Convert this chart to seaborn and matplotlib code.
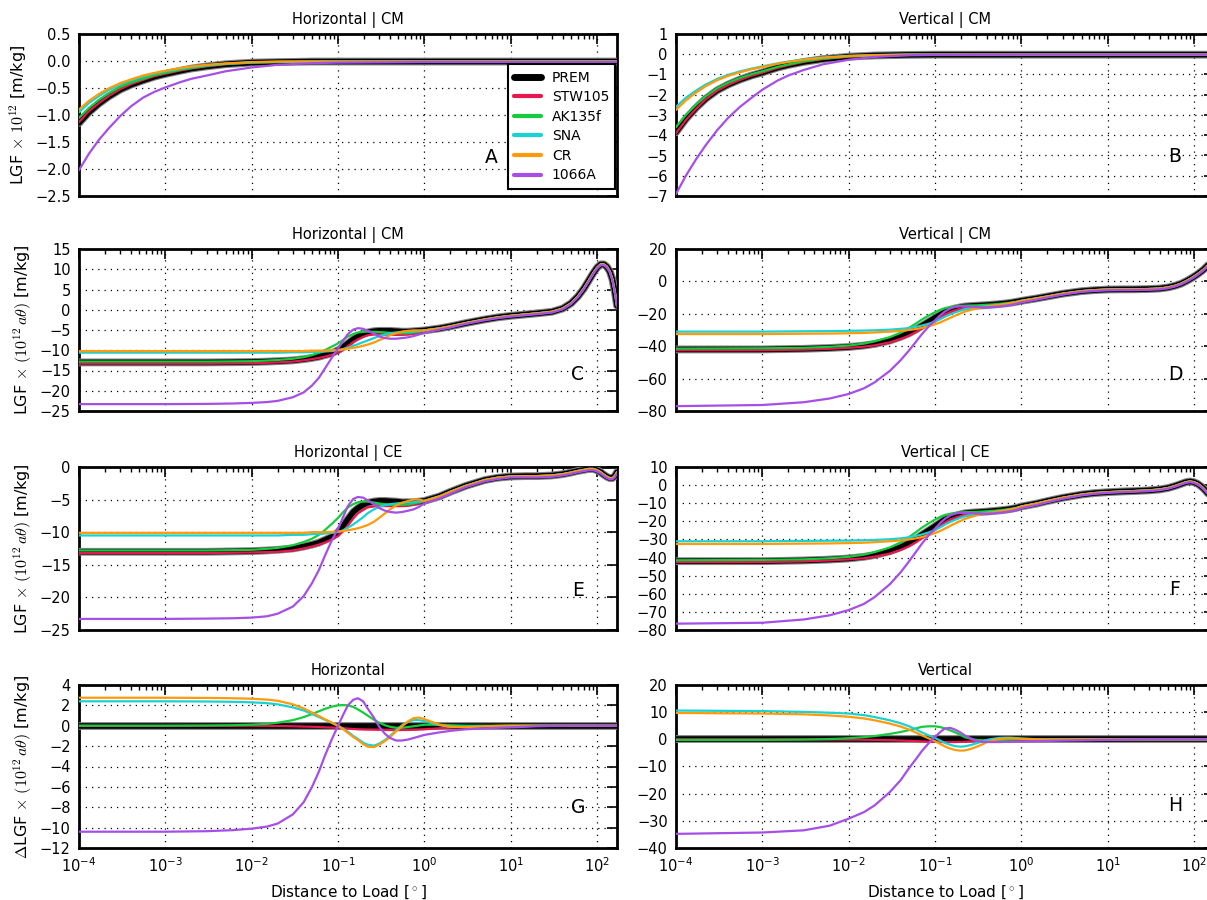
"""
Load Green's functions for six Earth models (8 panels, log distance axis).
"""

import matplotlib
matplotlib.use("Agg")
import matplotlib.pyplot as plt
import matplotlib.patheffects as pe
from matplotlib.lines import Line2D
from matplotlib.ticker import LogLocator, MultipleLocator, NullFormatter
import pandas as pd
import seaborn as sns

MODELS = ["PREM", "STW105", "AK135f", "SNA", "CR", "1066A"]
COLORS = {
    "PREM": "black",
    "STW105": "#e8174f",
    "AK135f": "#14cc3c",
    "SNA": "#1ad2d2",
    "CR": "#ff9a0a",
    "1066A": "#a64fe6",
}

# ── distances [deg] ─────────────────────────────────────────────────
DIST_NEAR = [1e-4, 1.3e-4, 1.7e-4, 2.2e-4, 3e-4, 4e-4, 5.5e-4, 7.5e-4, 1e-3,
             1.5e-3, 2e-3, 3e-3, 5e-3, 1e-2, 2e-2, 5e-2, 0.1, 1, 10, 170]
DIST_HEAD = [1e-4, 1e-3, 3e-3, 6e-3, 1e-2, 1.5e-2, 2e-2, 3e-2, 4e-2, 5e-2,
             6e-2, 7e-2, 8.5e-2, 0.1, 0.115, 0.13, 0.15, 0.17, 0.195, 0.22,
             0.26, 0.3, 0.35, 0.4, 0.47, 0.55, 0.65, 0.75, 0.87]
DIST_TAIL = [1, 1.5, 2, 3, 5, 7, 10, 15, 20, 30, 40, 50, 60, 70, 80, 90, 100,
             110, 120, 130, 140, 150, 160, 170]
DIST = DIST_HEAD + DIST_TAIL

# ── A: horizontal | CM, LGF x 1e12 ──────────────────────────────────
A_PREM = [-1.15, -0.95, -0.79, -0.66, -0.53, -0.44, -0.36, -0.29, -0.24, -0.18,
          -0.14, -0.10, -0.06, -0.03, -0.02, -0.01, -0.01, -0.01, -0.01, -0.01]
A_STW105 = [-1.13, -0.93, -0.78, -0.65, -0.52, -0.43, -0.35, -0.28, -0.235, -0.175,
            -0.14, -0.10, -0.06, -0.03, -0.02, -0.01, -0.01, -0.01, -0.01, -0.01]
A_AK135F = [-1.05, -0.87, -0.72, -0.60, -0.48, -0.40, -0.33, -0.26, -0.22, -0.16,
            -0.13, -0.09, -0.055, -0.03, -0.02, -0.01, -0.01, -0.01, -0.01, -0.01]
A_SNA = [-0.95, -0.78, -0.65, -0.54, -0.43, -0.36, -0.29, -0.23, -0.19, -0.14,
         -0.11, -0.08, -0.05, -0.025, -0.015, -0.01, -0.01, -0.01, -0.01, -0.01]
A_CR = [-0.90, -0.74, -0.61, -0.51, -0.41, -0.34, -0.27, -0.22, -0.18, -0.13,
        -0.10, -0.07, -0.045, -0.02, -0.01, -0.01, -0.01, -0.01, -0.01, -0.01]
A_1066A = [-2.02, -1.72, -1.46, -1.25, -1.02, -0.84, -0.68, -0.57, -0.49, -0.39,
           -0.33, -0.27, -0.19, -0.12, -0.07, -0.04, -0.03, -0.02, -0.02, -0.02]

# ── B: vertical | CM, LGF x 1e12 ────────────────────────────────────
B_PREM = [-3.85, -3.2, -2.65, -2.2, -1.78, -1.5, -1.25, -1.05, -0.9, -0.66,
          -0.53, -0.38, -0.24, -0.12, -0.06, -0.03, -0.02, -0.02, -0.02, -0.02]
B_STW105 = [-3.9, -3.25, -2.7, -2.23, -1.8, -1.52, -1.27, -1.06, -0.91, -0.67,
            -0.54, -0.38, -0.24, -0.12, -0.06, -0.03, -0.02, -0.02, -0.02, -0.02]
B_AK135F = [-3.6, -3.0, -2.5, -2.08, -1.68, -1.41, -1.17, -0.98, -0.84, -0.62,
            -0.5, -0.35, -0.22, -0.11, -0.055, -0.025, -0.02, -0.02, -0.02, -0.02]
B_SNA = [-2.6, -2.15, -1.8, -1.5, -1.22, -1.02, -0.85, -0.71, -0.6, -0.45,
         -0.36, -0.26, -0.16, -0.08, -0.04, -0.02, -0.02, -0.02, -0.02, -0.02]
B_CR = [-2.75, -2.28, -1.9, -1.58, -1.28, -1.07, -0.89, -0.74, -0.63, -0.47,
        -0.38, -0.27, -0.17, -0.085, -0.045, -0.02, -0.02, -0.02, -0.02, -0.02]
B_1066A = [-6.9, -6.0, -5.2, -4.5, -3.75, -3.15, -2.6, -2.15, -1.75, -1.3,
           -1.05, -0.78, -0.5, -0.27, -0.13, -0.05, -0.03, -0.02, -0.02, -0.02]

# ── C: horizontal | CM, LGF x (1e12 a theta) ───────────────────────
C_TAIL = [-5.1, -4.6, -4.1, -3.3, -2.4, -1.9, -1.5, -1.15, -0.9, -0.5, 0.3, 1.6,
          3.3, 5.2, 7.2, 9.0, 10.4, 11.2, 11.2, 10.6, 9.5, 7.6, 4.6, 1.0]
C_TAIL_1066A = [-5.7, -4.9, -4.4, -3.5, -2.6, -2.1, -1.7, -1.35, -1.1, -0.7, 0.1, 1.4,
                3.1, 5.0, 7.0, 8.8, 10.2, 11.0, 11.0, 10.4, 9.3, 7.4, 4.4, 0.8]
C_PREM = [-13.0, -13.0, -13.0, -12.95, -12.9, -12.8, -12.7, -12.5, -12.2, -11.9,
          -11.6, -11.2, -10.7, -10.0, -9.2, -8.3, -7.3, -6.6, -6.0, -5.6,
          -5.3, -5.2, -5.2, -5.2, -5.3, -5.4, -5.4, -5.3, -5.2] + C_TAIL
C_STW105 = [-13.3, -13.3, -13.3, -13.25, -13.2, -13.1, -13.0, -12.8, -12.5, -12.2,
            -11.9, -11.6, -11.1, -10.5, -9.8, -9.0, -8.0, -7.3, -6.7, -6.3,
            -6.1, -6.1, -6.15, -6.2, -6.2, -6.2, -6.1, -5.9, -5.6] + C_TAIL
C_AK135F = [-12.8, -12.8, -12.8, -12.75, -12.7, -12.55, -12.4, -12.1, -11.7, -11.2,
            -10.6, -10.0, -9.1, -8.3, -7.4, -6.6, -6.0, -5.6, -5.45, -5.4,
            -5.45, -5.5, -5.6, -5.7, -5.8, -5.8, -5.75, -5.6, -5.4] + C_TAIL
C_SNA = [-10.6, -10.6, -10.6, -10.6, -10.6, -10.6, -10.6, -10.5, -10.5, -10.4,
         -10.4, -10.3, -10.2, -10.0, -9.7, -9.4, -8.9, -8.5, -8.0, -7.6,
         -7.0, -6.5, -6.1, -5.8, -5.6, -5.5, -5.45, -5.4, -5.25] + C_TAIL
C_CR = [-10.2, -10.2, -10.2, -10.2, -10.2, -10.2, -10.2, -10.2, -10.2, -10.1,
        -10.1, -10.1, -10.0, -9.9, -9.8, -9.6, -9.4, -9.2, -8.9, -8.6,
        -8.1, -7.5, -6.9, -6.3, -5.8, -5.4, -5.2, -5.1, -5.1] + C_TAIL
C_1066A = [-23.3, -23.3, -23.25, -23.15, -23.0, -22.8, -22.5, -21.6, -20.4, -18.7,
           -16.8, -14.6, -11.8, -9.5, -7.6, -6.0, -4.9, -4.55, -4.7, -5.2,
           -5.9, -6.6, -7.0, -7.15, -7.15, -7.0, -6.8, -6.5, -6.1] + C_TAIL_1066A

# ── D: vertical | CM ────────────────────────────────────────────────
D_TAIL = [-12.0, -10.5, -9.3, -7.6, -6.0, -5.4, -5.0, -4.9, -4.9, -4.7, -4.4, -3.7,
          -2.7, -1.5, 0.0, 1.5, 3.0, 4.5, 6.0, 7.5, 9.2, 10.8, 12.5, 14.5]
D_TAIL_1066A = [-13.0, -11.3, -10.0, -8.2, -6.5, -5.9, -5.5, -5.4, -5.4, -5.2, -4.9, -4.2,
                -3.2, -2.0, -0.5, 1.0, 2.5, 4.0, 5.5, 7.0, 8.7, 10.3, 12.0, 14.0]
D_PREM = [-42.0, -42.0, -41.6, -41.1, -40.5, -39.6, -38.6, -36.5, -34.2, -32.0,
          -29.7, -27.5, -24.8, -22.5, -20.6, -19.0, -17.6, -16.7, -16.0, -15.5,
          -15.2, -15.0, -14.8, -14.6, -14.3, -14.0, -13.6, -13.2, -12.6] + D_TAIL
D_STW105 = [-42.5, -42.5, -42.1, -41.6, -41.0, -40.3, -39.5, -37.6, -35.5, -33.5,
            -31.2, -29.0, -26.6, -24.5, -22.3, -20.5, -18.9, -17.8, -16.9, -16.3,
            -15.8, -15.5, -15.2, -14.9, -14.6, -14.2, -13.8, -13.3, -12.7] + D_TAIL
D_AK135F = [-41.5, -41.3, -41.0, -40.4, -39.6, -38.4, -37.0, -34.4, -31.6, -28.7,
            -26.0, -23.6, -21.0, -19.0, -17.5, -16.5, -15.8, -15.4, -15.1, -14.95,
            -14.85, -14.8, -14.6, -14.4, -14.2, -13.9, -13.5, -13.1, -12.6] + D_TAIL
D_SNA = [-31.0, -31.0, -30.8, -30.7, -30.5, -30.35, -30.2, -29.8, -29.3, -28.8,
         -28.1, -27.3, -26.1, -24.8, -23.3, -21.8, -20.3, -19.2, -18.1, -17.2,
         -16.5, -16.0, -15.6, -15.2, -14.8, -14.5, -14.0, -13.4, -12.8] + D_TAIL
D_CR = [-32.5, -32.5, -32.3, -32.2, -32.0, -31.8, -31.5, -31.0, -30.5, -30.0,
        -29.4, -28.7, -27.6, -26.5, -25.3, -24.0, -22.5, -21.2, -19.9, -18.7,
        -17.6, -16.7, -16.0, -15.5, -15.0, -14.6, -14.0, -13.4, -12.8] + D_TAIL
D_1066A = [-77.0, -76.3, -74.6, -72.3, -69.5, -66.0, -62.3, -55.2, -48.6, -42.6,
           -37.3, -32.7, -27.6, -24.0, -20.9, -18.6, -16.7, -15.8, -15.4, -15.4,
           -15.6, -15.8, -16.0, -16.0, -15.8, -15.5, -15.0, -14.5, -13.8] + D_TAIL_1066A

# ── E: horizontal | CE ──────────────────────────────────────────────
E_TAIL = [-5.2, -4.5, -3.8, -2.9, -2.0, -1.65, -1.45, -1.4, -1.4, -1.3, -1.1, -0.85,
          -0.6, -0.45, -0.3, -0.3, -0.5, -0.8, -1.2, -1.5, -1.7, -1.7, -1.4, -0.8]
E_TAIL_1066A = [-5.6, -4.8, -4.1, -3.1, -2.2, -1.85, -1.6, -1.6, -1.6, -1.5, -1.3, -1.05,
                -0.8, -0.65, -0.5, -0.5, -0.7, -1.0, -1.4, -1.7, -1.9, -1.9, -1.6, -1.0]
E_PREM = [-13.0, -13.0, -13.0, -12.95, -12.9, -12.8, -12.7, -12.5, -12.2, -11.9,
          -11.6, -11.2, -10.7, -10.0, -9.0, -8.0, -6.9, -6.3, -5.8, -5.5,
          -5.3, -5.2, -5.2, -5.25, -5.3, -5.4, -5.4, -5.4, -5.3] + E_TAIL
E_STW105 = [-13.2, -13.2, -13.2, -13.15, -13.1, -13.05, -13.0, -12.8, -12.5, -12.2,
            -11.9, -11.6, -11.1, -10.6, -9.8, -9.0, -7.9, -7.1, -6.6, -6.2,
            -6.05, -6.0, -6.0, -6.0, -6.0, -6.0, -5.95, -5.8, -5.6] + E_TAIL
E_AK135F = [-12.8, -12.8, -12.8, -12.75, -12.7, -12.55, -12.4, -12.0, -11.5, -11.0,
            -10.4, -9.7, -8.7, -7.8, -6.9, -6.2, -5.7, -5.4, -5.3, -5.3,
            -5.45, -5.6, -5.7, -5.8, -5.8, -5.8, -5.75, -5.6, -5.4] + E_TAIL
E_SNA = [-10.5, -10.5, -10.5, -10.5, -10.5, -10.5, -10.5, -10.4, -10.4, -10.3,
         -10.3, -10.2, -10.1, -10.0, -9.7, -9.3, -8.8, -8.3, -7.7, -7.1,
         -6.5, -6.1, -5.85, -5.7, -5.6, -5.5, -5.45, -5.4, -5.3] + E_TAIL
E_CR = [-10.1, -10.1, -10.1, -10.1, -10.1, -10.1, -10.1, -10.1, -10.1, -10.0,
        -10.0, -10.0, -9.95, -9.9, -9.8, -9.7, -9.55, -9.4, -9.15, -8.9,
        -8.4, -7.8, -7.1, -6.5, -5.9, -5.5, -5.2, -5.0, -5.0] + E_TAIL
E_1066A = [-23.3, -23.3, -23.25, -23.2, -23.1, -22.9, -22.5, -21.4, -19.8, -17.8,
           -15.8, -13.7, -11.2, -9.5, -7.6, -6.0, -4.9, -4.6, -4.7, -5.1,
           -5.7, -6.3, -6.7, -6.9, -7.0, -6.9, -6.7, -6.5, -6.1] + E_TAIL_1066A

# ── F: vertical | CE ────────────────────────────────────────────────
F_TAIL = [-11.8, -10.2, -8.8, -7.0, -5.2, -4.4, -3.9, -3.5, -3.3, -2.9, -2.4, -1.6,
          -0.5, 0.6, 1.6, 2.0, 1.6, 0.7, -0.6, -2.1, -3.8, -5.5, -7.2, -9.0]
F_TAIL_1066A = [-12.8, -11.0, -9.5, -7.6, -5.7, -4.8, -4.3, -3.9, -3.7, -3.3, -2.8, -2.0,
                -0.9, 0.2, 1.2, 1.6, 1.2, 0.3, -1.0, -2.5, -4.2, -5.9, -7.6, -9.4]
F_PREM = [-42.0, -42.0, -41.6, -41.1, -40.5, -39.6, -38.6, -36.5, -34.3, -32.0,
          -29.7, -27.5, -24.9, -22.7, -20.7, -19.0, -17.8, -17.0, -16.2, -15.6,
          -15.2, -15.0, -14.8, -14.6, -14.3, -14.0, -13.6, -13.2, -12.6] + F_TAIL
F_STW105 = [-42.5, -42.5, -42.1, -41.6, -41.0, -40.4, -39.5, -37.8, -35.8, -33.8,
            -31.6, -29.5, -26.9, -24.7, -22.5, -20.7, -19.0, -18.0, -17.1, -16.4,
            -15.9, -15.5, -15.2, -14.8, -14.5, -14.2, -13.8, -13.3, -12.7] + F_TAIL
F_AK135F = [-41.5, -41.3, -41.0, -40.4, -39.6, -38.4, -37.0, -34.4, -31.6, -28.7,
            -26.0, -23.6, -21.0, -19.0, -17.5, -16.5, -15.8, -15.4, -15.1, -14.95,
            -14.85, -14.8, -14.6, -14.4, -14.2, -13.9, -13.5, -13.1, -12.6] + F_TAIL
F_SNA = [-31.0, -31.0, -30.8, -30.7, -30.6, -30.45, -30.3, -29.9, -29.4, -28.8,
         -28.1, -27.3, -26.1, -24.8, -23.3, -21.8, -20.3, -19.2, -18.1, -17.2,
         -16.5, -16.0, -15.6, -15.2, -14.8, -14.5, -14.0, -13.4, -12.8] + F_TAIL
F_CR = [-32.5, -32.5, -32.3, -32.2, -32.0, -31.8, -31.5, -31.0, -30.5, -30.0,
        -29.4, -28.7, -27.6, -26.5, -25.3, -24.0, -22.5, -21.2, -19.9, -18.7,
        -17.6, -16.7, -16.0, -15.5, -15.0, -14.6, -14.0, -13.4, -12.8] + F_TAIL
F_1066A = [-76.5, -76.0, -74.2, -71.9, -69.0, -65.6, -61.8, -54.7, -48.1, -42.1,
           -36.9, -32.5, -27.5, -24.0, -20.9, -18.6, -16.7, -15.8, -15.3, -15.3,
           -15.5, -15.7, -15.8, -15.8, -15.6, -15.3, -14.9, -14.4, -13.7] + F_TAIL_1066A

# ── G: horizontal, difference to PREM ───────────────────────────────
G_PREM = [0.0] * 53
G_STW105 = [0, 0, 0, 0, 0, -0.01, -0.02, -0.05, -0.08, -0.1,
            -0.12, -0.15, -0.18, -0.2, -0.24, -0.28, -0.32, -0.35, -0.37, -0.38,
            -0.39, -0.4, -0.41, -0.42, -0.42, -0.42, -0.41, -0.4, -0.38,
            -0.35, -0.25, -0.18, -0.1, -0.05, -0.03, -0.02, -0.01] + [0.0] * 16
G_AK135F = [0, 0, 0.02, 0.05, 0.1, 0.18, 0.3, 0.55, 0.85, 1.15,
            1.42, 1.65, 1.88, 2.0, 2.03, 2.0, 1.85, 1.6, 1.3, 1.0,
            0.6, 0.3, 0.05, -0.1, -0.2, -0.2, -0.12, -0.05, 0.03,
            0.1, 0.1, 0.05] + [0.0] * 21
G_SNA = [2.4, 2.4, 2.38, 2.35, 2.3, 2.22, 2.1, 1.8, 1.5, 1.15,
         0.85, 0.6, 0.28, 0.0, -0.3, -0.6, -1.0, -1.3, -1.65, -1.85,
         -1.95, -1.75, -1.4, -1.0, -0.45, 0.05, 0.4, 0.55, 0.55,
         0.45, 0.05, -0.1, -0.1, -0.05, -0.02] + [0.0] * 18
G_CR = [2.75, 2.75, 2.73, 2.7, 2.65, 2.57, 2.45, 2.1, 1.7, 1.3,
        0.95, 0.65, 0.3, 0.0, -0.35, -0.7, -1.1, -1.4, -1.8, -2.05,
        -2.1, -1.85, -1.5, -1.1, -0.55, -0.05, 0.45, 0.75, 0.8,
        0.65, 0.1, -0.1, -0.15, -0.05, -0.02] + [0.0] * 18
G_1066A = [-10.4, -10.4, -10.35, -10.25, -10.1, -9.9, -9.6, -8.7, -7.5, -6.0,
           -4.5, -3.0, -1.3, 0.0, 1.1, 2.0, 2.55, 2.7, 2.4, 1.7,
           0.8, -0.1, -0.8, -1.2, -1.45, -1.45, -1.35, -1.2, -1.05,
           -0.9, -0.65, -0.5, -0.35, -0.25, -0.2, -0.15, -0.1, -0.05, -0.02] + [0.0] * 14

# ── H: vertical, difference to PREM ─────────────────────────────────
H_PREM = [0.0] * 53
H_STW105 = [0, 0, 0, -0.05, -0.1, -0.15, -0.2, -0.3, -0.45, -0.55,
            -0.65, -0.75, -0.85, -0.95, -1.0, -1.0, -1.0, -1.0, -0.95, -0.9,
            -0.75, -0.6, -0.5, -0.4, -0.3, -0.2, -0.15, -0.1, -0.07,
            -0.05, -0.02] + [0.0] * 22
H_AK135F = [-0.2, -0.2, -0.1, 0.1, 0.4, 0.8, 1.2, 2.0, 2.7, 3.4,
            4.0, 4.6, 4.8, 4.8, 4.5, 4.0, 3.3, 2.6, 1.7, 0.8,
            0.2, -0.2, -0.35, -0.4, -0.35, -0.3, -0.2, -0.1, -0.05] + [0.0] * 24
H_SNA = [10.6, 10.4, 10.1, 9.8, 9.5, 8.9, 8.2, 7.0, 5.9, 4.8,
         3.7, 2.6, 1.4, 0.5, -0.5, -1.3, -2.0, -2.5, -2.7, -2.6,
         -2.1, -1.5, -0.8, -0.2, 0.2, 0.5, 0.6, 0.6, 0.45,
         0.3, 0.05, -0.1, -0.05] + [0.0] * 20
H_CR = [9.7, 9.5, 9.2, 8.8, 8.3, 7.7, 7.0, 5.8, 4.7, 3.6,
        2.5, 1.5, 0.3, -0.7, -1.7, -2.6, -3.4, -3.9, -4.15, -4.1,
        -3.5, -2.8, -1.9, -1.0, -0.3, 0.1, 0.35, 0.4, 0.3,
        0.2, 0.0, -0.1, -0.05] + [0.0] * 20
H_1066A = [-34.8, -34.3, -33.5, -31.8, -29.2, -26.8, -24.3, -19.4, -15.0, -10.6,
           -7.3, -4.4, -1.3, 0.9, 2.7, 4.0, 4.2, 3.6, 2.6, 1.5,
           0.3, -0.6, -0.9, -1.0, -1.0, -1.0, -0.95, -0.9, -0.85,
           -0.8, -0.65, -0.6, -0.45, -0.35, -0.25, -0.2, -0.1, -0.05] + [0.0] * 15

YLAB_CM = r"LGF $\times\ 10^{12}$ [m/kg]"
YLAB_AT = r"LGF $\times\ (10^{12}\,a\theta)$ [m/kg]"
YLAB_D = r"$\Delta$LGF $\times\ (10^{12}\,a\theta)$ [m/kg]"

PANELS = [
    # letter, col, row, title, ylabel, ylim, ystep, letter (x, y), dist, series
    ("A", 0, 0, "Horizontal | CM", YLAB_CM, (-2.5, 0.5), 0.5, (6, -1.78), DIST_NEAR,
     [A_PREM, A_STW105, A_AK135F, A_SNA, A_CR, A_1066A]),
    ("B", 1, 0, "Vertical | CM", None, (-7, 1), 1, (60, -5.05), DIST_NEAR,
     [B_PREM, B_STW105, B_AK135F, B_SNA, B_CR, B_1066A]),
    ("C", 0, 1, "Horizontal | CM", YLAB_AT, (-25, 15), 5, (60, -16.1), DIST,
     [C_PREM, C_STW105, C_AK135F, C_SNA, C_CR, C_1066A]),
    ("D", 1, 1, "Vertical | CM", None, (-80, 20), 20, (60, -57.2), DIST,
     [D_PREM, D_STW105, D_AK135F, D_SNA, D_CR, D_1066A]),
    ("E", 0, 2, "Horizontal | CE", YLAB_AT, (-25, 0), 5, (60, -19.0), DIST,
     [E_PREM, E_STW105, E_AK135F, E_SNA, E_CR, E_1066A]),
    ("F", 1, 2, "Vertical | CE", None, (-80, 10), 10, (60, -57.5), DIST,
     [F_PREM, F_STW105, F_AK135F, F_SNA, F_CR, F_1066A]),
    ("G", 0, 3, "Horizontal", YLAB_D, (-12, 4), 2, (60, -8.0), DIST,
     [G_PREM, G_STW105, G_AK135F, G_SNA, G_CR, G_1066A]),
    ("H", 1, 3, "Vertical", None, (-40, 20), 10, (60, -24.5), DIST,
     [H_PREM, H_STW105, H_AK135F, H_SNA, H_CR, H_1066A]),
]

# pixel layout of the original figure
FIG_W, FIG_H = 1207, 900
COL_X = [79, 676]
AX_W = 538
ROWS = [(34, 196), (249, 411), (467, 630), (685, 848)]

sns.set_theme(style="white", rc={
    "axes.edgecolor": "black",
    "axes.linewidth": 2.0,
    "xtick.color": "black",
    "ytick.color": "black",
    "text.color": "black",
    "axes.labelcolor": "black",
})
plt.rcParams["font.family"] = ["DejaVu Sans"]
plt.rcParams["mathtext.fontset"] = "cm"
plt.rcParams["axes.unicode_minus"] = True

fig = plt.figure(figsize=(FIG_W / 100, FIG_H / 100), dpi=100)

for letter, col, row, title, ylabel, ylim, ystep, letter_xy, dist, series in PANELS:
    top, bot = ROWS[row]
    ax = fig.add_axes([COL_X[col] / FIG_W, 1 - bot / FIG_H,
                       AX_W / FIG_W, (bot - top) / FIG_H])

    for model, vals in zip(MODELS, series):
        df = pd.DataFrame({"dist": dist, "lgf": vals})
        if model == "PREM":
            sns.lineplot(data=df, x="dist", y="lgf", ax=ax, color=COLORS[model],
                         lw=4.0, estimator=None, zorder=3)
            ax.lines[-1].set_path_effects(
                [pe.Stroke(linewidth=5.6, foreground="0.5"), pe.Normal()])
        else:
            sns.lineplot(data=df, x="dist", y="lgf", ax=ax, color=COLORS[model],
                         lw=1.6, estimator=None, zorder=4)

    ax.set_xscale("log")
    ax.set_xlim(1e-4, 170)
    ax.set_ylim(*ylim)
    ax.yaxis.set_major_locator(MultipleLocator(ystep))
    ax.xaxis.set_major_locator(LogLocator(base=10, numticks=12))
    ax.xaxis.set_minor_locator(LogLocator(base=10, subs=range(2, 10), numticks=12))
    ax.xaxis.set_minor_formatter(NullFormatter())

    ax.tick_params(which="both", direction="in", top=True, right=True,
                   labelsize=10.5, pad=6)
    ax.tick_params(which="major", length=7, width=1.2)
    ax.tick_params(which="minor", length=3.5, width=1.0)
    ax.grid(True, which="major", color="black", linestyle=(0, (1, 4)), linewidth=0.9)
    for spine in ax.spines.values():
        spine.set_linewidth(2.0)

    ax.set_title(title, fontsize=10.5, pad=7)
    ax.set_ylabel(ylabel if ylabel else "", fontsize=11.5)
    if row == 3:
        ax.set_xlabel(r"Distance to Load [$^\circ$]", fontsize=11, labelpad=6)
    else:
        ax.set_xlabel("")
        ax.tick_params(labelbottom=False)

    ax.text(letter_xy[0], letter_xy[1], letter, fontsize=13.5, ha="center", va="center")

    if letter == "A":
        handles = [Line2D([], [], color=COLORS[m], lw=5 if m == "PREM" else 3)
                   for m in MODELS]
        leg = ax.legend(handles, MODELS, loc="lower right",
                        bbox_to_anchor=(0.997, 0.045), borderaxespad=0,
                        fontsize=10, labelspacing=0.4, handlelength=1.9,
                        handletextpad=0.8, fancybox=False, framealpha=1,
                        edgecolor="black", borderpad=0.45)
        leg.get_frame().set_linewidth(1.5)

fig.savefig("out.png", dpi=100)
plt.close(fig)
